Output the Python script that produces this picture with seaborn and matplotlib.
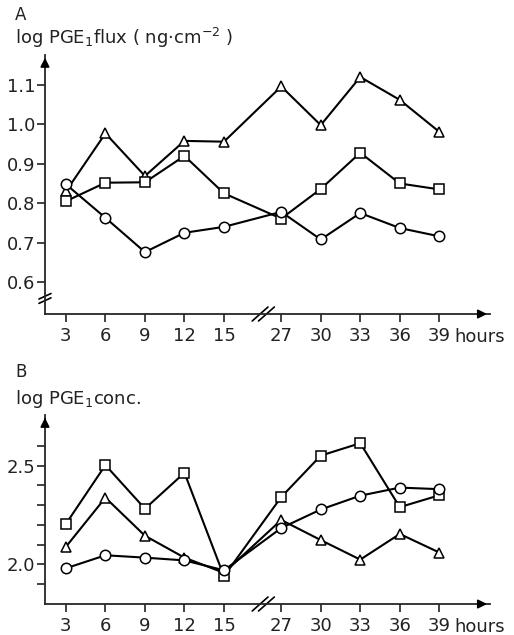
import numpy as np
import pandas as pd
import seaborn as sns
import matplotlib.pyplot as plt

hours = [3, 6, 9, 12, 15, 27, 30, 33, 36, 39]

# panel A: log PGE1 flux
flux_triangle = [0.83, 0.977, 0.869, 0.958, 0.956, 1.096, 0.998, 1.12, 1.062, 0.981]
flux_square = [0.805, 0.852, 0.853, 0.92, 0.825, 0.761, 0.836, 0.928, 0.85, 0.835]
flux_circle = [0.848, 0.763, 0.676, 0.725, 0.74, 0.778, 0.708, 0.775, 0.737, 0.716]

# panel B: log PGE1 conc.
conc_square = [2.205, 2.503, 2.282, 2.464, 1.94, 2.341, 2.551, 2.614, 2.29, 2.35]
conc_triangle = [2.089, 2.338, 2.145, 2.034, 1.957, 2.225, 2.123, 2.024, 2.154, 2.06]
conc_circle = [1.98, 2.046, 2.034, 2.02, 1.97, 2.184, 2.278, 2.348, 2.389, 2.381]

sns.set_theme(style="ticks")
plt.rcParams["font.family"] = ["DejaVu Sans"]
plt.rcParams["mathtext.fontset"] = "dejavusans"

# broken x axis: 15 -> 27 is drawn as a short gap
pos = [i if h <= 15 else i + 0.45 for i, h in enumerate(hours)]
markers = {"triangle": "^", "square": "s", "circle": "o"}


def make_df(tri, sq, ci):
    return pd.concat([
        pd.DataFrame({"pos": pos, "value": tri, "series": "triangle"}),
        pd.DataFrame({"pos": pos, "value": sq, "series": "square"}),
        pd.DataFrame({"pos": pos, "value": ci, "series": "circle"}),
    ])


dfA = make_df(flux_triangle, flux_square, flux_circle)
dfB = make_df(conc_triangle, conc_square, conc_circle)

fig = plt.figure(figsize=(5.14, 6.35), dpi=100)
axA = fig.add_axes([0.0875, 0.5055, 0.8655, 0.408])
axB = fig.add_axes([0.0875, 0.0488, 0.8655, 0.2977])


def draw(ax, df, ylim, yticks, ylabels):
    sns.lineplot(data=df, x="pos", y="value", style="series", markers=markers,
                 dashes=False, color="black", lw=1.5, ms=7.5, mfc="white",
                 mec="black", mew=1.1, legend=False, ax=ax, sort=False)
    ax.set_xlim(-0.53, 10.73)
    ax.set_ylim(*ylim)
    ax.set_xticks(pos)
    ax.set_xticklabels([str(h) for h in hours])
    ax.set_yticks(yticks)
    ax.set_yticklabels(ylabels)
    ax.set_xlabel("")
    ax.set_ylabel("")
    sns.despine(ax=ax)
    for s in ["left", "bottom"]:
        ax.spines[s].set_linewidth(1.3)
    ax.tick_params(direction="out", length=6, width=1.2, labelsize=13,
                   colors="#222222")
    ax.tick_params(axis="y", pad=1)
    ax.tick_params(axis="x", pad=3)
    # arrow heads at the ends of the axes
    ax.annotate("", xy=(0, 1.0), xytext=(0, 0.96), xycoords="axes fraction",
                arrowprops=dict(arrowstyle="-|>", color="black", lw=1.3,
                                mutation_scale=13))
    ax.annotate("", xy=(1.0, 0), xytext=(0.97, 0), xycoords="axes fraction",
                arrowprops=dict(arrowstyle="-|>", color="black", lw=1.3,
                                mutation_scale=13))
    # break marks on x axis
    xb = (pos[4] + pos[5]) / 2 + 0.27
    tr = ax.get_xaxis_transform()
    h = 7.0 / ax.get_window_extent().height
    for dx in (-0.08, 0.08):
        ax.plot([xb + dx - 0.2, xb + dx + 0.2], [-h, h], color="black",
                lw=1.2, transform=tr, clip_on=False)
    ax.annotate("hours", xy=(pos[-1], 0), xycoords=("data", "axes fraction"),
                xytext=(11, -10), textcoords="offset points", va="top",
                ha="left", fontsize=13, color="#222222")


draw(axA, dfA, (0.519, 1.176), [0.6, 0.7, 0.8, 0.9, 1.0, 1.1],
     ["0.6", "0.7", "0.8", "0.9", "1.0", "1.1"])
draw(axB, dfB, (1.799, 2.757), [1.9, 2.0, 2.1, 2.2, 2.3, 2.4, 2.5, 2.6],
     ["", "2.0", "", "", "", "", "2.5", ""])

# break mark on the y axis of panel A
w = 6.0 / axA.get_window_extent().width
for dy in (-0.0055, 0.0055):
    axA.plot([-w, w], [0.5585 + dy - 0.007, 0.5585 + dy + 0.007],
             color="black", lw=1.2, transform=axA.get_yaxis_transform(),
             clip_on=False)

fig.text(0.029, 1 - 15 / 635, "A", fontsize=12, va="center", color="#222222")
fig.text(0.029, 1 - 38 / 635, r"log PGE$_1$flux ( ng$\cdot$cm$^{-2}$ )",
         fontsize=13, va="center", color="#222222")
fig.text(0.029, 1 - 372 / 635, "B", fontsize=12, va="center", color="#222222")
fig.text(0.029, 1 - 399 / 635, r"log PGE$_1$conc.", fontsize=13,
         va="center", color="#222222")

fig.savefig("out.png", dpi=100)
